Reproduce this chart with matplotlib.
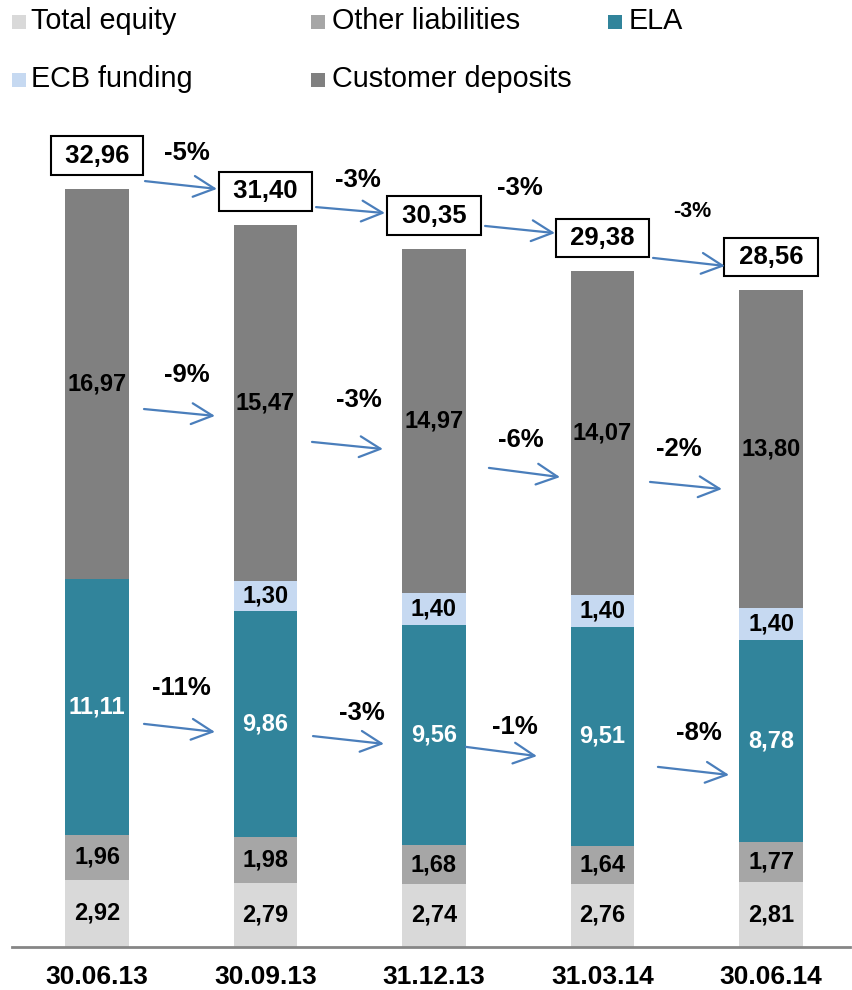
import matplotlib
matplotlib.use("Agg")
import matplotlib.pyplot as plt
from matplotlib.patches import Rectangle
import numpy as np

plt.rcParams['font.family'] = ['Liberation Sans', 'DejaVu Sans']

# ---------------- data ----------------
dates = ['30.06.13', '30.09.13', '31.12.13', '31.03.14', '30.06.14']
total_equity = [2.92, 2.79, 2.74, 2.76, 2.81]
other_liabilities = [1.96, 1.98, 1.68, 1.64, 1.77]
ela = [11.11, 9.86, 9.56, 9.51, 8.78]
ecb_funding = [0.0, 1.30, 1.40, 1.40, 1.40]
customer_deposits = [16.97, 15.47, 14.97, 14.07, 13.80]
totals = [32.96, 31.40, 30.35, 29.38, 28.56]

chg_total = ['-5%', '-3%', '-3%', '-3%']
chg_deposits = ['-9%', '-3%', '-6%', '-2%']
chg_ela = ['-11%', '-3%', '-1%', '-8%']

series_names = ['Total equity', 'Other liabilities', 'ELA', 'ECB funding', 'Customer deposits']
series_vals = [total_equity, other_liabilities, ela, ecb_funding, customer_deposits]
colors = ['#d9d9d9', '#a6a6a6', '#31849b', '#c6d9f1', '#808080']
label_colors = ['black', 'black', 'white', 'black', 'black']

def fmt(v):
    return f'{v:.2f}'.replace('.', ',')

# ---------------- figure ----------------
W, H = 852, 990
fig = plt.figure(figsize=(W / 100, H / 100), dpi=100)

ax_left, ax_right = 12, 850
ax_bottom, ax_top = 947, 120
ax = fig.add_axes([ax_left / W, 1 - ax_bottom / H, (ax_right - ax_left) / W, (ax_bottom - ax_top) / H])

px_per_unit = 23.0
spacing = 168.5
x0_px = 97
ax.set_xlim((ax_left - x0_px) / spacing, (ax_right - x0_px) / spacing)
ax.set_ylim(0, (ax_bottom - ax_top) / px_per_unit)

x = np.arange(len(dates))
bar_w = 0.374
bottom = np.zeros(len(dates))
for name, vals, c, lc in zip(series_names, series_vals, colors, label_colors):
    vals = np.array(vals)
    ax.bar(x, vals, bar_w, bottom=bottom, color=c, edgecolor='none', label=name)
    for xi, b, v in zip(x, bottom, vals):
        if v > 0:
            ax.text(xi, b + v / 2, fmt(v), ha='center', va='center',
                    fontsize=17, fontweight='bold', color=lc)
    bottom = bottom + vals

# total boxes
for xi, t in zip(x, totals):
    ax.annotate(' ' + fmt(t) + ' ', xy=(xi, t), xytext=(0, 24), textcoords='offset points',
                ha='center', va='center', fontsize=18.5, fontweight='bold', color='black',
                bbox=dict(boxstyle='square,pad=0.28', fc='white', ec='black', lw=1.5))

# change arrows & labels (positions in data units)
arrow_color = '#4a7ebb'
aprops = dict(arrowstyle='->,head_length=1.5,head_width=0.75', color=arrow_color,
              lw=1.6, shrinkA=0, shrinkB=0, mutation_scale=10)

top_arrows = [((0.285, 33.30), (0.712, 32.96)), ((1.300, 32.17), (1.709, 31.91)),
              ((2.303, 31.35), (2.718, 31.04)), ((3.300, 29.96), (3.727, 29.61))]
top_labels = [(0.534, 34.52), (1.549, 33.35), (2.510, 33.00), (3.531, 31.96)]
top_sizes = [18.5, 18.5, 18.5, 15.5]

dep_arrows = [((0.279, 23.39), (0.700, 23.09)), ((1.276, 21.96), (1.697, 21.65)),
              ((2.326, 20.83), (2.748, 20.43)), ((3.282, 20.22), (3.709, 19.91))]
dep_labels = [(0.534, 24.87), (1.555, 23.78), (2.516, 22.04), (3.454, 21.65)]

ela_arrows = [((0.279, 9.70), (0.700, 9.35)), ((1.282, 9.17), (1.703, 8.83)),
              ((2.190, 8.70), (2.611, 8.30)), ((3.329, 7.83), (3.751, 7.48))]
ela_labels = [(0.499, 11.26), (1.573, 10.17), (2.481, 9.57), (3.573, 9.30)]

for arrows, labels, texts, sizes in [
        (top_arrows, top_labels, chg_total, top_sizes),
        (dep_arrows, dep_labels, chg_deposits, [18.5] * 4),
        (ela_arrows, ela_labels, chg_ela, [18.5] * 4)]:
    for (s, e), (lx, ly), t, fs in zip(arrows, labels, texts, sizes):
        ax.annotate('', xy=e, xytext=s, arrowprops=aprops)
        ax.text(lx, ly, t, ha='center', va='center', fontsize=fs, fontweight='bold', color='black')

# axes styling
for sp in ['top', 'left', 'right']:
    ax.spines[sp].set_visible(False)
ax.spines['bottom'].set_color('#868686')
ax.spines['bottom'].set_linewidth(2)
ax.set_yticks([])
ax.set_xticks(x)
ax.set_xticklabels(dates, fontsize=19, fontweight='bold')
ax.tick_params(axis='x', length=0, pad=13)

# manual legend
leg_pos = [(12, 31, 29), (311, 332, 29), (608, 629, 29), (12, 31, 87), (311, 332, 87)]
sq = 14
for (sx, tx, base), name, c in zip(leg_pos, series_names, colors):
    fig.add_artist(Rectangle((sx / W, 1 - base / H), sq / W, sq / H,
                             transform=fig.transFigure, facecolor=c, edgecolor='none'))
    fig.text(tx / W, 1 - base / H, name, ha='left', va='baseline', fontsize=20.7, color='black')

fig.savefig('out.png', dpi=100)
